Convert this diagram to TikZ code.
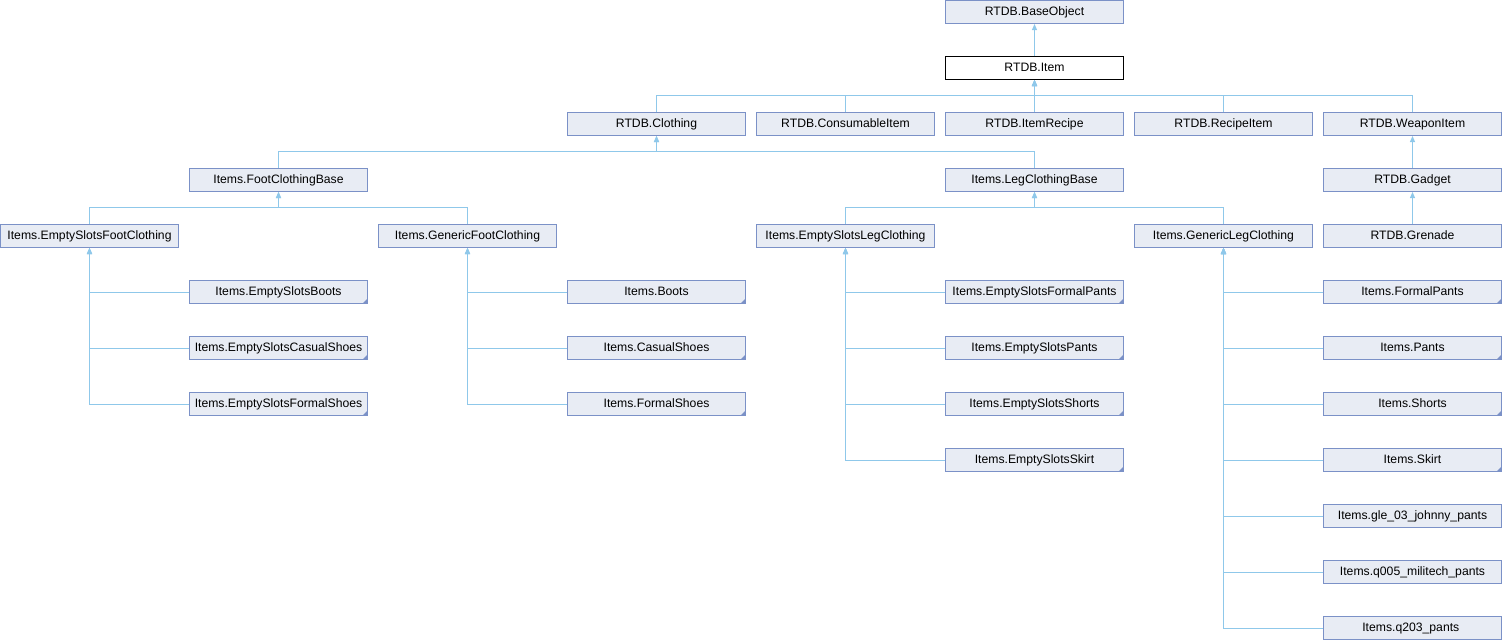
\documentclass[tikz,border=0pt]{standalone}
\usepackage{fontspec}
\setmainfont{Liberation Sans}
\usetikzlibrary{arrows.meta}

\definecolor{boxfill}{HTML}{E8ECF4}
\definecolor{boxline}{HTML}{7B91C7}
\definecolor{edgeline}{HTML}{8FC8EA}

\begin{document}
\begin{tikzpicture}[
    x=1pt, y=-1pt,
    every node/.style={align=center,font=\fontsize{12.2}{14}\selectfont},
    cls/.style={draw=boxline, fill=boxfill, line width=1pt, inner sep=0pt,
        minimum width=178pt, minimum height=23pt, text height=9pt, text depth=2.5pt},
    leaf/.style={cls, path picture={
        \fill[boxline] (path picture bounding box.south east) -- ++(-5pt,0pt) -- ++(5pt,5pt) -- cycle;}},
    current/.style={cls, draw=black, fill=white},
    inh/.style={draw=edgeline, line width=1pt, -{Triangle[length=6pt,width=5pt]}},
    >=Latex
]
    \useasboundingbox (0,0) rectangle (1502,640);

    \def\colW{189}
    \def\rowH{56}

    \foreach \c/\r/\n/\s/\t in {
        5/0/baseobj/cls/{RTDB.BaseObject},
        5/1/item/current/{RTDB.Item},
        3/2/clothing/cls/{RTDB.Clothing},
        4/2/consumable/cls/{RTDB.ConsumableItem},
        5/2/itemrecipe/cls/{RTDB.ItemRecipe},
        6/2/recipeitem/cls/{RTDB.RecipeItem},
        7/2/weaponitem/cls/{RTDB.WeaponItem},
        1/3/footbase/cls/{Items.FootClothingBase},
        5/3/legbase/cls/{Items.LegClothingBase},
        7/3/gadget/cls/{RTDB.Gadget},
        0/4/esfoot/cls/{Items.EmptySlotsFootClothing},
        2/4/genfoot/cls/{Items.GenericFootClothing},
        4/4/esleg/cls/{Items.EmptySlotsLegClothing},
        6/4/genleg/cls/{Items.GenericLegClothing},
        7/4/grenade/cls/{RTDB.Grenade},
        1/5/esboots/leaf/{Items.EmptySlotsBoots},
        1/6/escasual/leaf/{Items.EmptySlotsCasualShoes},
        1/7/esformal/leaf/{Items.EmptySlotsFormalShoes},
        3/5/boots/leaf/{Items.Boots},
        3/6/casual/leaf/{Items.CasualShoes},
        3/7/formal/leaf/{Items.FormalShoes},
        5/5/esfpants/leaf/{Items.EmptySlotsFormalPants},
        5/6/espants/leaf/{Items.EmptySlotsPants},
        5/7/esshorts/leaf/{Items.EmptySlotsShorts},
        5/8/esskirt/leaf/{Items.EmptySlotsSkirt},
        7/5/fpants/leaf/{Items.FormalPants},
        7/6/pants/leaf/{Items.Pants},
        7/7/shorts/leaf/{Items.Shorts},
        7/8/skirt/leaf/{Items.Skirt},
        7/9/johnny/cls/{Items.gle\_03\_johnny\_pants},
        7/10/militech/cls/{Items.q005\_militech\_pants},
        7/11/qpants/cls/{Items.q203\_pants}
    }{
        \node[\s] (\n) at (\c*\colW+89.5, \r*\rowH+12) {\t};
    }

    % straight inheritance
    \draw[inh] (item.north) -- (baseobj.south);
    \draw[inh] (gadget.north) -- (weaponitem.south);
    \draw[inh] (grenade.north) -- (gadget.south);

    % buses between rows
    \foreach \p/\kids in {
        item/{clothing,consumable,itemrecipe,recipeitem,weaponitem},
        clothing/{footbase,legbase},
        footbase/{esfoot,genfoot},
        legbase/{esleg,genleg}}{
        \foreach \k in \kids {
            \draw[inh] (\k.north) -- ++(0,-16.5) -| (\p.south);
        }
    }

    % trunks to the leaves
    \foreach \p/\kids in {
        esfoot/{esboots,escasual,esformal},
        genfoot/{boots,casual,formal},
        esleg/{esfpants,espants,esshorts,esskirt},
        genleg/{fpants,pants,shorts,skirt,johnny,militech,qpants}}{
        \foreach \k in \kids {
            \draw[inh] (\k.west) -| (\p.south);
        }
    }
\end{tikzpicture}
\end{document}
